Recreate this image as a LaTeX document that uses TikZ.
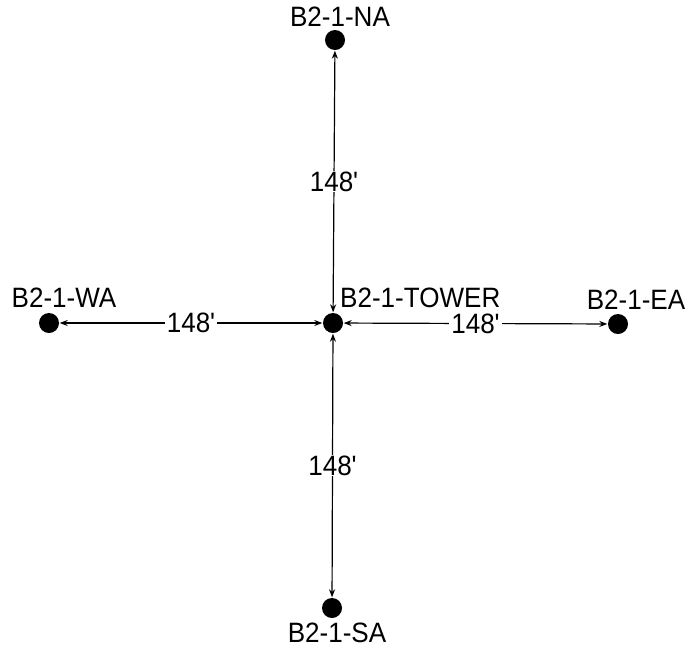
\documentclass[tikz,border=0pt]{standalone}
\usepackage{fontspec}
\newfontfamily\labfont[FakeStretch=0.93]{Liberation Sans}
\usetikzlibrary{arrows.meta}
\begin{document}
\begin{tikzpicture}[x=1pt,y=-1pt,
  dot/.style={circle,fill=black,inner sep=0pt,minimum size=20pt},
  lbl/.style={font=\labfont\fontsize{28}{32}\selectfont,inner sep=0pt},
  dim/.style={line width=1.2pt,{Stealth[length=8pt,width=6pt]}-{Stealth[length=8pt,width=6pt]},shorten <=0.5pt,shorten >=0.5pt},
  dimlbl/.style={font=\labfont\fontsize{28}{32}\selectfont,fill=white,inner xsep=2pt,inner ysep=1pt}]
\useasboundingbox (0,0) rectangle (687,649);
\node[dot] (c) at (333,323) {};
\node[dot] (n) at (335,40) {};
\node[dot] (s) at (332,608) {};
\node[dot] (w) at (49,323) {};
\node[dot] (e) at (618,324) {};
\node[lbl] (ln) at (340,17) {B2-1-NA};
\node[lbl,anchor=west] (lc) at (340,298) {B2-1-TOWER};
\node[lbl] (lw) at (64,298) {B2-1-WA};
\node[lbl] (le) at (636,300) {B2-1-EA};
\node[lbl] (ls) at (337,633) {B2-1-SA};
\draw[dim] (c) -- node[dimlbl,pos=0.5] {148'} (n);
\draw[dim] (c) -- node[dimlbl,pos=0.5] {148'} (s);
\draw[dim] (c) -- node[dimlbl,pos=0.5] {148'} (w);
\draw[dim] (c) -- node[dimlbl,pos=0.5] {148'} (e);
\end{tikzpicture}
\end{document}
